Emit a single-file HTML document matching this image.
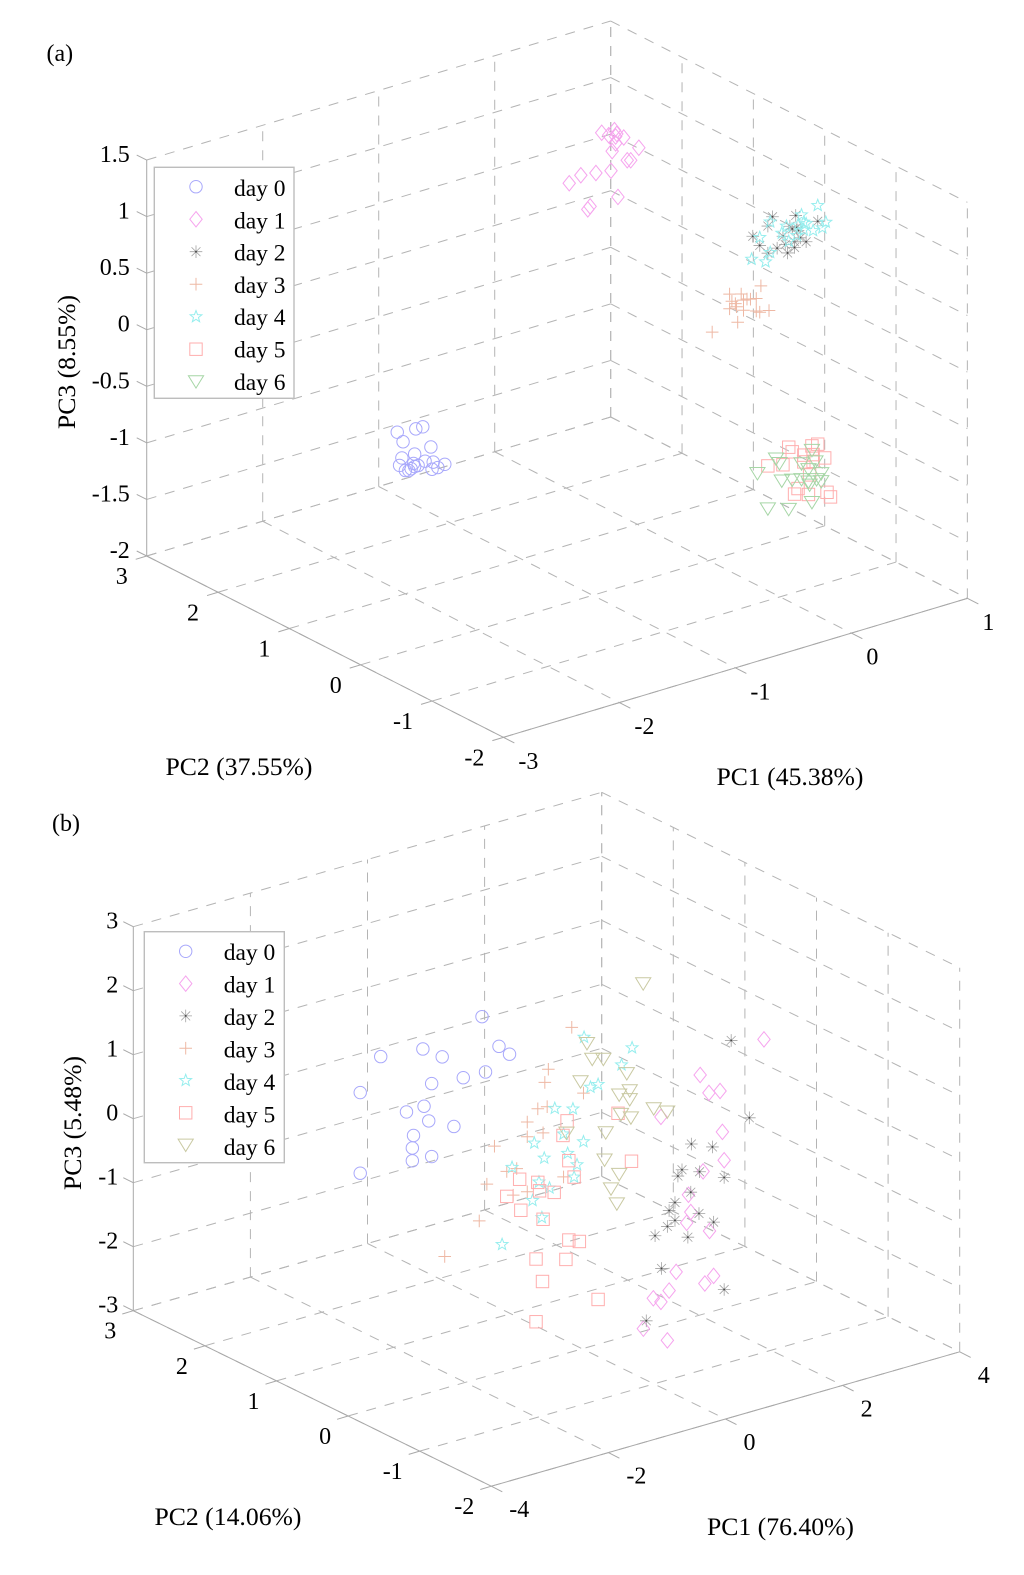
<!DOCTYPE html>
<html lang="en">
<head>
<meta charset="utf-8">
<title>PCA score plots by storage day</title>
<style>
html,body{margin:0;padding:0;background:#fff;}
svg{display:block;filter:blur(0.3px);}
text{font-family:"Liberation Serif","Times New Roman",serif;fill:#000;}
.tick{font-size:24px;}
.title{font-size:25.7px;}
.legend-text{font-size:23.5px;}
.panel{font-size:24px;}
</style>
</head>
<body>
<svg id="figure" xmlns="http://www.w3.org/2000/svg" width="1024" height="1575" viewBox="0 0 1024 1575">
  <rect x="0" y="0" width="1024" height="1575" fill="#fff"/>
  <g id="chart-a"></g>
  <g id="chart-b"></g>
  <text class="panel" x="46.5" y="61">(a)</text>
  <text class="panel" x="52" y="831">(b)</text>
  <text class="title" x="790" y="785" text-anchor="middle">PC1 (45.38%)</text>
  <text class="title" x="239" y="775" text-anchor="middle">PC2 (37.55%)</text>
  <text class="title" transform="translate(75 362) rotate(-90)" text-anchor="middle">PC3 (8.55%)</text>
  <text class="title" x="780.5" y="1535" text-anchor="middle">PC1 (76.40%)</text>
  <text class="title" x="228" y="1525" text-anchor="middle">PC2 (14.06%)</text>
  <text class="title" transform="translate(81 1123) rotate(-90)" text-anchor="middle">PC3 (5.48%)</text>
</svg>
<script>
/* ---------- shared labels ---------- */
const seriesNames = ['day 0','day 1','day 2','day 3','day 4','day 5','day 6'];

/* ---------- chart (a) axes ---------- */
const aPc1Ticks = [-3,-2,-1,0,1];
const aPc2Ticks = [3,2,1,0,-1,-2];
const aPc3Ticks = [1.5,1,0.5,0,-0.5,-1,-1.5,-2];
const aPc3TickLabels = ['1.5','1','0.5','0','-0.5','-1','-1.5','-2'];

/* ---------- chart (a) scores ---------- */
const aDay0Pc1 = [-2.07,-1.91,-1.85,-2.02,-1.78,-2.03,-1.92,-2.05,-1.83,-1.76,-1.66,-1.72,-1.77,-1.93,-1.89,-1.97,-2.00,-1.95,-1.92];
const aDay0Pc2 = [1,1,1,1,1,1,1,1,1,1,1,1,1,1,1,1,1,1,1];
const aDay0Pc3 = [-0.55,-0.57,-0.57,-0.65,-0.77,-0.79,-0.79,-0.85,-0.88,-0.91,-0.96,-0.97,-0.97,-0.87,-0.90,-0.92,-0.91,-0.91,-0.90];

const aDay1Pc1 = [0,0.06,0.11,0.13,0.12,0.19,0.12,0.09,0.32,0.22,0.25,0.08,-0.05,-0.18,-0.28,0.14,-0.10,-0.12];
const aDay1Pc2 = [1.5,1.5,1.5,1.5,1.5,1.5,1.5,1.5,1.5,1.5,1.5,1.5,1.5,1.5,1.5,1.5,1.5,1.5];
const aDay1Pc3 = [1.30,1.26,1.29,1.25,1.23,1.20,1.17,1.11,1.07,0.99,0.98,0.94,0.96,0.98,0.94,0.69,0.68,0.66];

const aDay2Pc1 = [0.55,0.51,0.75,0.70,0.72,0.77,0.76,0.94,0.38,0.44,0.64,0.84,0.79,0.74,0.66,0.59,0.74,0.51,0.68];
const aDay2Pc2 = [0,0,0,0,0,0,0,0,0,0,0,0,0,0,0,0,0,0,0];
const aDay2Pc3 = [0.87,0.80,0.82,0.74,0.71,0.68,0.71,0.71,0.75,0.65,0.67,0.56,0.61,0.59,0.59,0.58,0.54,0.56,0.51];

const aDay3Pc1 = [0.45,0.18,0.28,0.20,0.23,0.30,0.33,0.36,0.41,0.18,0.24,0.30,0.41,0.44,0.52,0.25,0.03];
const aDay3Pc2 = [0,0,0,0,0,0,0,0,0,0,0,0,0,0,0,0,0];
const aDay3Pc3 = [0.29,0.30,0.27,0.23,0.20,0.21,0.21,0.20,0.19,0.17,0.17,0.12,0.08,0.06,0.05,0.03,0.01];

const aDay4Pc1 = [0.94,0.80,1.01,0.53,0.82,0.77,0.84,0.67,0.98,0.90,0.63,0.82,0.44,0.53,0.37,0.49,0.76,0.69];
const aDay4Pc2 = [0,0,0,0,0,0,0,0,0,0,0,0,0,0,0,0,0,0];
const aDay4Pc3 = [0.85,0.81,0.68,0.83,0.74,0.73,0.72,0.75,0.64,0.64,0.70,0.67,0.72,0.56,0.55,0.49,0.64,0.61];

const aDay5Pc1 = [0.69,0.94,0.89,0.72,1.00,0.82,0.90,0.82,0.64,0.51,0.90,0.87,0.77,0.74,0.86,1.02,1.05];
const aDay5Pc2 = [0,0,0,0,0,0,0,0,0,0,0,0,0,0,0,0,0];
const aDay5Pc3 = [-1.21,-1.26,-1.26,-1.26,-1.40,-1.32,-1.34,-1.38,-1.35,-1.32,-1.40,-1.51,-1.60,-1.64,-1.68,-1.71,-1.76];

const aDay6Pc1 = [0.58,0.89,0.61,0.42,0.80,0.92,0.86,0.97,0.63,0.72,0.80,0.86,0.93,0.97,0.87,0.89,0.51,0.69];
const aDay6Pc2 = [0,0,0,0,0,0,0,0,0,0,0,0,0,0,0,0,0,0];
const aDay6Pc3 = [-1.28,-1.30,-1.33,-1.36,-1.39,-1.41,-1.46,-1.53,-1.49,-1.51,-1.53,-1.57,-1.57,-1.60,-1.60,-1.76,-1.70,-1.76];

/* ---------- chart (b) axes ---------- */
const bPc1Ticks = [-4,-2,0,2,4];
const bPc2Ticks = [3,2,1,0,-1,-2];
const bPc3Ticks = [3,2,1,0,-1,-2,-3];
const bPc3TickLabels = ['3','2','1','0','-1','-2','-3'];

/* ---------- chart (b) scores ---------- */
const bDay0Pc1 = [-0.49,-2.22,-1.50,-1.17,-0.20,-0.02,-0.43,-0.81,-1.35,-2.57,-1.78,-1.48,-1.40,-0.97,-1.66,-1.68,-1.68,-1.35,-2.57];
const bDay0Pc2 = [1,1,1,1,1,1,1,1,1,1,1,1,1,1,1,1,1,1,1];
const bDay0Pc3 = [1.77,1.60,1.53,1.32,1.23,1.06,0.89,0.90,0.95,1.13,0.62,0.63,0.38,0.18,0.22,0.03,-0.17,-0.19,-0.13];

const bDay1Pc1 = [1.88,0.79,0.94,1.13,0.12,1.17,1.20,0.84,0.59,0.63,0.56,0.95,0.38,1.02,0.87,0.26,-0.01,0.12,-0.18,0.23];
const bDay1Pc2 = [-1,-1,-1,-1,-1,-1,-1,-1,-1,-1,-1,-1,-1,-1,-1,-1,-1,-1,-1,-1];
const bDay1Pc3 = [1.89,1.62,1.30,1.28,1.14,0.63,0.18,0.10,-0.20,-0.48,-0.63,-0.86,-1.35,-1.58,-1.66,-1.61,-1.66,-1.75,-2.09,-2.38];

const bDay2Pc1 = [1.32,1.63,0.64,1.00,0.48,0.41,0.78,1.20,0.63,0.36,0.26,0.77,0.36,1.02,0.23,0.02,0.58,0.13,1.20,-0.13];
const bDay2Pc2 = [-1,-1,-1,-1,-1,-1,-1,-1,-1,-1,-1,-1,-1,-1,-1,-1,-1,-1,-1,-1];
const bDay2Pc3 = [2.02,0.73,0.58,0.44,0.22,0.14,0.11,-0.09,-0.17,-0.26,-0.36,-0.54,-0.54,-0.74,-0.60,-0.69,-0.86,-1.23,-1.84,-1.98];

const bDay3Pc1 = [-0.18,0.02,-0.58,-0.64,-0.76,-0.60,-0.94,-0.67,-0.94,-1.50,-1.29,-1.12,-1.63,-0.32,-0.94,-1.18,-1.76,-2.35];
const bDay3Pc2 = [0,0,0,0,0,0,0,0,0,0,0,0,0,0,0,0,0,0];
const bDay3Pc3 = [2.07,0.99,1.52,1.33,0.95,0.94,0.79,0.55,0.56,0.56,0.11,0.11,0.00,-0.23,-0.30,-0.29,-0.54,-0.94];

const bDay4Pc1 = [0.03,0.85,0.67,0.27,0.14,-0.16,-0.32,0.02,-0.25,-0.47,-0.82,-0.65,-1.20,-0.74,-0.09,-0.14,-0.56,-0.85,-0.69,-1.37];
const bDay4Pc2 = [0,0,0,0,0,0,0,0,0,0,0,0,0,0,0,0,0,0,0,0];
const bDay4Pc3 = [1.86,1.48,1.26,1.06,1.05,0.79,0.44,0.23,0.12,0.88,0.43,0.15,0.15,-0.20,-0.10,-0.28,-0.34,-0.46,-0.77,-1.01];

const bDay5Pc1 = [-0.26,-0.33,-0.23,-1.07,-0.76,-0.14,0.84,-0.73,-0.48,-1.29,-1.05,-0.67,-0.23,-0.05,-0.79,-0.28,-0.68,0.27,-0.79,0.61];
const bDay5Pc2 = [0,0,0,0,0,0,0,0,0,0,0,0,0,0,0,0,0,0,0,0];
const bDay5Pc3 = [0.63,0.42,0.00,-0.07,-0.20,-0.28,-0.29,-0.34,-0.43,-0.28,-0.56,-0.80,-1.24,-1.31,-1.39,-1.53,-1.77,-2.30,-2.37,0.52];

const bDay6Pc1 = [1.04,0.08,0.17,0.36,0.76,-0.03,0.63,0.81,0.81,1.22,1.45,0.66,0.83,-0.27,0.40,0.38,0.63,0.49,0.59];
const bDay6Pc2 = [0,0,0,0,0,0,0,0,0,0,0,0,0,0,0,0,0,0,0];
const bDay6Pc3 = [2.43,1.75,1.48,1.43,1.10,1.18,0.80,0.82,0.68,0.43,0.32,0.49,0.39,0.44,0.27,-0.15,-0.44,-0.63,-0.89];

/* ---------- drawing ---------- */
const NS = 'http://www.w3.org/2000/svg';
const GRID = '#b4b4b4';
const AXIS = '#a8a8a8';
const DASH = '10 9';

function make(tag, attrs, parent) {
  const node = document.createElementNS(NS, tag);
  for (const k in attrs) node.setAttribute(k, attrs[k]);
  parent.appendChild(node);
  return node;
}

function starPoints(R, r) {
  const pts = [];
  for (let i = 0; i < 10; i++) {
    const ang = -Math.PI / 2 + i * Math.PI / 5;
    const rad = i % 2 ? r : R;
    pts.push((rad * Math.cos(ang)).toFixed(2) + ',' + (rad * Math.sin(ang)).toFixed(2));
  }
  return pts.join(' ');
}

function asteriskPath(R) {
  let d = '';
  for (let i = 0; i < 4; i++) {
    const ang = i * Math.PI / 4;
    const dx = (R * Math.cos(ang)).toFixed(2), dy = (R * Math.sin(ang)).toFixed(2);
    d += 'M' + (-dx) + ' ' + (-dy) + 'L' + dx + ' ' + dy;
  }
  return d;
}

function drawShape(group, kind, color) {
  const s = { fill: 'none', stroke: color, 'stroke-width': 1 };
  if (kind === 'circle') make('circle', Object.assign({ r: 6.2 }, s), group);
  if (kind === 'diamond') make('path', Object.assign({ d: 'M0 -7.7L6.2 0L0 7.7L-6.2 0Z' }, s), group);
  if (kind === 'asterisk') {
    make('path', Object.assign({ d: asteriskPath(6.3), 'stroke-width': 0.8 }, { fill: 'none', stroke: color }), group);
    make('circle', { r: 0.9, fill: '#444' }, group);
  }
  if (kind === 'plus') make('path', Object.assign({ d: 'M-6.3 0H6.3M0 -6.3V6.3' }, s), group);
  if (kind === 'star') make('polygon', Object.assign({ points: starPoints(6.2, 2.6) }, s), group);
  if (kind === 'square') make('rect', Object.assign({ x: -6.2, y: -6.2, width: 12.4, height: 12.4 }, s), group);
  if (kind === 'triangle') make('path', Object.assign({ d: 'M-7.6 -6L7.6 -6L0 6.4Z' }, s), group);
}

function drawChart(root, cfg, series) {
  const sx = (p1, p2) => cfg.x0 + cfg.a * p1 + cfg.b * p2;
  const sy = (p1, p2, p3) => cfg.y0 + cfg.c * p1 + cfg.d * p2 + cfg.e * p3;
  const p1Min = cfg.pc1Ticks[0], p1Max = cfg.pc1Ticks[cfg.pc1Ticks.length - 1];
  const p2Back = cfg.pc2Ticks[0], p2Front = cfg.pc2Ticks[cfg.pc2Ticks.length - 1];
  const p3Top = cfg.pc3Ticks[0], p3Bot = cfg.pc3Ticks[cfg.pc3Ticks.length - 1];

  const line = (x1, y1, x2, y2, dashed) => {
    const attrs = { x1: x1, y1: y1, x2: x2, y2: y2, stroke: dashed ? GRID : AXIS, 'stroke-width': 1 };
    if (dashed) attrs['stroke-dasharray'] = DASH;
    return make('line', attrs, root);
  };

  /* floor + wall grid */
  cfg.pc1Ticks.forEach(t => {
    const floor = line(sx(t, p2Back), sy(t, p2Back, p3Bot), sx(t, p2Front), sy(t, p2Front, p3Bot), true);
    
    
    const tick = line(sx(t, p2Front), sy(t, p2Front, p3Bot), sx(t, p2Front) + 11, sy(t, p2Front, p3Bot) + 5.6, false);
    
    
    if (t !== p1Min) {
      const wall = line(sx(t, p2Back), sy(t, p2Back, p3Bot), sx(t, p2Back), sy(t, p2Back, p3Top), true);
      
      
    }
    const label = make('text', { class: 'tick', x: sx(t, p2Front) + cfg.pc1Dx, y: sy(t, p2Front, p3Bot) + cfg.pc1Dy }, root);
    label.textContent = String(t);
    
    
  });

  cfg.pc2Ticks.forEach(t => {
    const floor = line(sx(p1Min, t), sy(p1Min, t, p3Bot), sx(p1Max, t), sy(p1Max, t, p3Bot), true);
    
    
    const tick = line(sx(p1Min, t), sy(p1Min, t, p3Bot), sx(p1Min, t) - 11, sy(p1Min, t, p3Bot) + 3.3, false);
    
    
    const wall = line(sx(p1Max, t), sy(p1Max, t, p3Bot), sx(p1Max, t), sy(p1Max, t, p3Top), true);
    
    
    const label = make('text', { class: 'tick', 'text-anchor': 'end', x: sx(p1Min, t) + cfg.pc2Dx, y: sy(p1Min, t, p3Bot) + cfg.pc2Dy }, root);
    label.textContent = String(t);
    
    
  });

  cfg.pc3Ticks.forEach((t, i) => {
    const left = line(sx(p1Min, p2Back), sy(p1Min, p2Back, t), sx(p1Max, p2Back), sy(p1Max, p2Back, t), true);
    
    
    const right = line(sx(p1Max, p2Back), sy(p1Max, p2Back, t), sx(p1Max, p2Front), sy(p1Max, p2Front, t), true);
    
    
    const tick = line(sx(p1Min, p2Back), sy(p1Min, p2Back, t), sx(p1Min, p2Back) - 10, sy(p1Min, p2Back, t) - 5, false);
    
    
    const label = make('text', { class: 'tick', 'text-anchor': 'end', x: sx(p1Min, p2Back) + cfg.pc3Dx, y: sy(p1Min, p2Back, t) + cfg.pc3Dy }, root);
    label.textContent = cfg.pc3TickLabels[i];
    
    
  });

  /* solid box edges */
  const edgeLeft = line(sx(p1Min, p2Back), sy(p1Min, p2Back, p3Bot), sx(p1Min, p2Back), sy(p1Min, p2Back, p3Top), false);
  
  
  const edgePc2 = line(sx(p1Min, p2Back), sy(p1Min, p2Back, p3Bot), sx(p1Min, p2Front), sy(p1Min, p2Front, p3Bot), false);
  
  
  const edgePc1 = line(sx(p1Min, p2Front), sy(p1Min, p2Front, p3Bot), sx(p1Max, p2Front), sy(p1Max, p2Front, p3Bot), false);
  
  

  /* points */
  series.forEach((s, si) => {
    const group = make('g', {}, root);
    
    
    s.pc1.forEach((v, i) => {
      const px = sx(v, s.pc2[i]);
      const py = sy(v, s.pc2[i], s.pc3[i]);
      const mark = make('g', { transform: 'translate(' + px.toFixed(2) + ' ' + py.toFixed(2) + ')' }, group);
      
      
      drawShape(mark, s.kind, s.color);
    });
  });

  /* legend */
  const lg = cfg.legend;
  const legend = make('g', {}, root);
  
  
  const box = make('rect', { x: lg.x, y: lg.y, width: lg.w, height: lg.h, fill: '#fff', stroke: '#bdbdbd', 'stroke-width': 1.4 }, legend);
  
  
  series.forEach((s, i) => {
    const entry = make('g', {}, legend);
    
    
    const sym = make('g', { transform: 'translate(' + lg.markX + ' ' + (lg.firstMarkY + i * lg.markStep) + ')' }, entry);
    
    
    drawShape(sym, s.kind, s.color);
    const txt = make('text', { class: 'legend-text', x: lg.textX, y: lg.firstBaseY + i * lg.textStep }, entry);
    txt.textContent = seriesNames[i];
    
    
  });
}

const C0 = '#a8a8fb', C1 = '#f6a4ee', C2 = '#a2a2a2', C3 = '#eeb8a4', C4 = '#96eeee', C5 = '#ffaeae';

drawChart(document.getElementById('chart-a'), {
  x0: 708.7, y0: 334.28, a: 116, b: -71.33, c: -34.75, d: -36.27, e: -113.14,
  pc1Ticks: aPc1Ticks, pc2Ticks: aPc2Ticks, pc3Ticks: aPc3Ticks, pc3TickLabels: aPc3TickLabels,
  pc1Dx: 15, pc1Dy: 31.5, pc2Dx: -19, pc2Dy: 28, pc3Dx: -17, pc3Dy: 2,
  legend: { x: 154.3, y: 167.3, w: 139.7, h: 231, markX: 196, firstMarkY: 186.7, markStep: 32.5, textX: 234, firstBaseY: 196, textStep: 32.3 }
}, [
  { kind: 'circle', color: C0, pc1: aDay0Pc1, pc2: aDay0Pc2, pc3: aDay0Pc3 },
  { kind: 'diamond', color: C1, pc1: aDay1Pc1, pc2: aDay1Pc2, pc3: aDay1Pc3 },
  { kind: 'asterisk', color: C2, pc1: aDay2Pc1, pc2: aDay2Pc2, pc3: aDay2Pc3 },
  { kind: 'plus', color: C3, pc1: aDay3Pc1, pc2: aDay3Pc2, pc3: aDay3Pc3 },
  { kind: 'star', color: C4, pc1: aDay4Pc1, pc2: aDay4Pc2, pc3: aDay4Pc3 },
  { kind: 'square', color: C5, pc1: aDay5Pc1, pc2: aDay5Pc2, pc3: aDay5Pc3 },
  { kind: 'triangle', color: '#a6d6a6', pc1: aDay6Pc1, pc2: aDay6Pc2, pc3: aDay6Pc3 }
]);

drawChart(document.getElementById('chart-b'), {
  x0: 582.3, y0: 1156.8, a: 58.55, b: -71.6, c: -16.8, d: -35.1, e: -64,
  pc1Ticks: bPc1Ticks, pc2Ticks: bPc2Ticks, pc3Ticks: bPc3Ticks, pc3TickLabels: bPc3TickLabels,
  pc1Dx: 18, pc1Dy: 31, pc2Dx: -17, pc2Dy: 28, pc3Dx: -15, pc3Dy: 2,
  legend: { x: 144.3, y: 931.7, w: 140, h: 231, markX: 185.7, firstMarkY: 951.3, markStep: 32.3, textX: 223.7, firstBaseY: 960, textStep: 32.5 }
}, [
  { kind: 'circle', color: C0, pc1: bDay0Pc1, pc2: bDay0Pc2, pc3: bDay0Pc3 },
  { kind: 'diamond', color: C1, pc1: bDay1Pc1, pc2: bDay1Pc2, pc3: bDay1Pc3 },
  { kind: 'asterisk', color: C2, pc1: bDay2Pc1, pc2: bDay2Pc2, pc3: bDay2Pc3 },
  { kind: 'plus', color: C3, pc1: bDay3Pc1, pc2: bDay3Pc2, pc3: bDay3Pc3 },
  { kind: 'star', color: C4, pc1: bDay4Pc1, pc2: bDay4Pc2, pc3: bDay4Pc3 },
  { kind: 'square', color: C5, pc1: bDay5Pc1, pc2: bDay5Pc2, pc3: bDay5Pc3 },
  { kind: 'triangle', color: '#c9c9a2', pc1: bDay6Pc1, pc2: bDay6Pc2, pc3: bDay6Pc3 }
]);
</script>
</body>
</html>
